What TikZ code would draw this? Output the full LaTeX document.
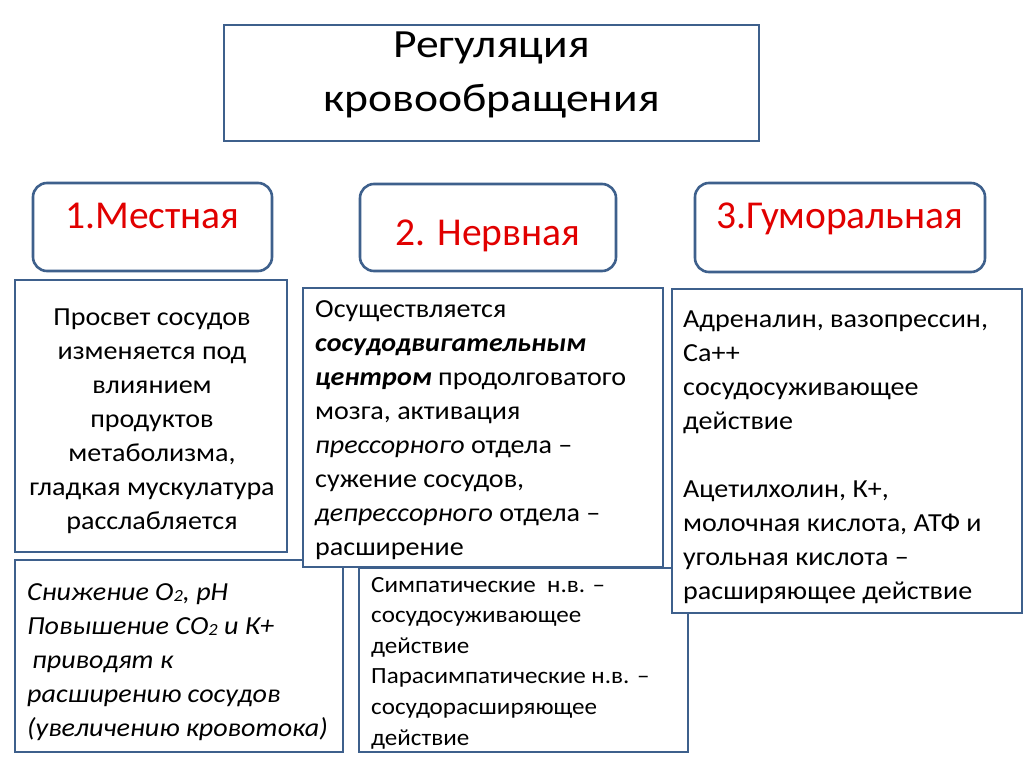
\documentclass[tikz,border=0pt]{standalone}
\usepackage{fontspec}
\setmainfont{Carlito}
\newfontfamily\bodyfont{Carlito}[FakeStretch=1.08]
\newfontfamily\titlefont{Carlito}[FakeStretch=1.14]
\definecolor{edge}{RGB}{62,96,140}
\definecolor{lbl}{RGB}{225,0,0}
\newcommand{\sub}[1]{\raisebox{-1pt}{\fontsize{17}{17}\selectfont #1}}
\begin{document}
\begin{tikzpicture}[x=1pt,y=-1pt,
  box/.style={draw=edge, line width=2.6pt, fill=white, inner sep=0pt, outer sep=0pt},
  lblbox/.style={box, rounded corners=14pt},
  body/.style={inner sep=0pt, font=\bodyfont\fontsize{26}{34}\selectfont},
  lbltext/.style={inner sep=0pt, anchor=base, text=lbl, font=\fontsize{39.5}{40}\selectfont}]
\useasboundingbox[fill=white] (0,0) rectangle (1024,768);

% title
\node[box, minimum width=535pt, minimum height=116pt] (title) at (491.5,83) {};
\node[inner sep=0pt, anchor=base, text width=520pt, align=flush center,
      font=\titlefont\fontsize{40}{54}\selectfont] (titletext) at (491.5,58)
  {Регуляция\\кровообращения};

% labels
\node[lblbox, minimum width=239pt, minimum height=88pt] (l1) at (152.5,227) {};
\node[lbltext] (l1t) at (152.5,228) {1.Местная};
\node[lblbox, minimum width=256pt, minimum height=87pt] (l2) at (488,227.5) {};
\node[lbltext] (l2t) at (488,245) {2. Нервная};
\node[lblbox, minimum width=290pt, minimum height=89pt] (l3) at (840,227.5) {};
\node[lbltext] (l3t) at (840,228) {3.Гуморальная};

% box A
\node[box, minimum width=272pt, minimum height=272pt] (A) at (151,416) {};
\node[body, anchor=base, text width=270pt, align=flush center] (At) at (152,325)
  {Просвет сосудов\\изменяется под\\влиянием\\продуктов\\метаболизма,\\гладкая мускулатура\\расслабляется};

% box D
\node[box, minimum width=328pt, minimum height=192pt] (D) at (179,656) {};
\node[body, anchor=base west, text width=320pt, align=flush left, font=\bodyfont\fontsize{26}{34}\selectfont\itshape] (Dt) at (27,600)
  {Снижение О\sub{2}, рН\\Повышение СО\sub{2} и К+\\\hspace*{5pt}приводят к\\расширению сосудов\\(увеличению кровотока)};

% box B
\node[box, minimum width=360pt, minimum height=279pt] (B) at (483,427.5) {};
\node[body, anchor=base west, text width=345pt, align=flush left] (Bt) at (315,317)
  {Осуществляется\\\textbf{\textit{сосудодвигательным}}\\\textbf{\textit{центром}} продолговатого\\мозга, активация\\\textit{прессорного} отдела –\\сужение сосудов,\\\textit{депрессорного} отдела –\\расширение};

% box E
\node[box, minimum width=329pt, minimum height=184pt] (E) at (523.5,660) {};
\node[body, anchor=base west, text width=315pt, align=flush left, font=\bodyfont\fontsize{23.2}{30.6}\selectfont] (Et) at (371,592)
  {Симпатические\ \ н.в. –\\сосудосуживающее\\действие\\Парасимпатические н.в. –\\сосудорасширяющее\\действие};

% box C
\node[box, minimum width=350pt, minimum height=324pt] (C) at (847,451) {};
\node[body, anchor=base west, text width=335pt, align=flush left] (Ct) at (683,327)
  {Адреналин, вазопрессин,\\Са++\\сосудосуживающее\\действие\\[34pt]Ацетилхолин, К+,\\молочная кислота, АТФ и\\угольная кислота –\\расширяющее действие};
\end{tikzpicture}
\end{document}
